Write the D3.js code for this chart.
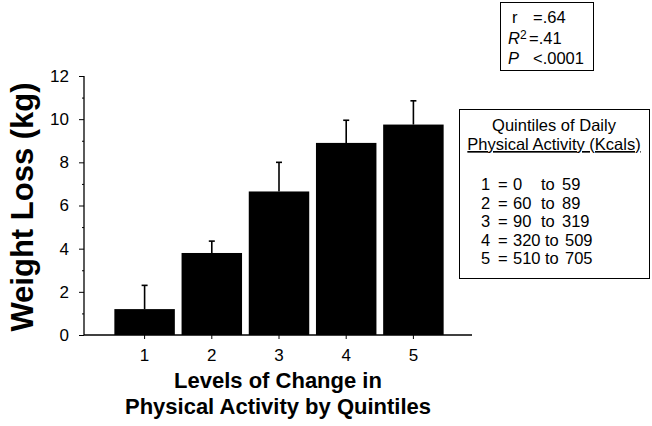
<!DOCTYPE html>
<html><head><meta charset="utf-8">
<script src="https://cdn.jsdelivr.net/npm/d3@7"></script>
<style>body{margin:0;background:#fff}svg{display:block;font-family:"Liberation Sans",Arial,sans-serif}</style>
</head><body><svg id="c" width="652" height="426"></svg>
<script>
const categories = ["1","2","3","4","5"];
const values = [1.2, 3.8, 6.65, 8.9, 9.75];
const errors = [1.1, 0.55, 1.35, 1.05, 1.1];
const yTicks = [0,2,4,6,8,10,12];
const yMinorTicks = [1,3,5,7,9,11];
const statLines = [["r","=.64"],["R","=.41"],["P","<.0001"]];
const legendTitle = ["Quintiles of Daily","Physical Activity (Kcals)"];
const legendFrom = ["0","60","90","320","510"];
const legendTo = ["59","89","319","509","705"];

const svg = d3.select("#c");
const x = d3.scaleBand().domain(categories).range([111,447]).paddingInner(0.1).paddingOuter(0.05);
const y = d3.scaleLinear().domain([0,12]).range([335,76]);

// bars
svg.append("g").selectAll("rect").data(values).join("rect")
  .attr("x",(d,i)=>x(categories[i])).attr("width",x.bandwidth())
  .attr("y",d=>y(d)).attr("height",d=>y(0)-y(d)).attr("fill","#000");

// error bars
const eg = svg.append("g").attr("stroke","#000").attr("stroke-width",1.6);
values.forEach((v,i)=>{
  const cx = x(categories[i])+x.bandwidth()/2;
  eg.append("line").attr("x1",cx).attr("x2",cx).attr("y1",y(v)).attr("y2",y(v+errors[i]));
  eg.append("line").attr("x1",cx-3).attr("x2",cx+3).attr("y1",y(v+errors[i])).attr("y2",y(v+errors[i]));
});

// y axis
const yAxis = d3.axisLeft(y).tickValues(yTicks).tickSize(5).tickPadding(10).tickFormat(d3.format("d"));
const ya = svg.append("g").attr("transform","translate(84,0)").call(yAxis);
ya.select(".domain").attr("d","M0,"+y(12)+"V"+y(0)).attr("stroke-width",1.3);
ya.selectAll("text").attr("font-size",17).attr("font-family","Liberation Sans, Arial, sans-serif").attr("fill","#000");
const yMinor = svg.append("g").attr("transform","translate(84,0)").call(d3.axisLeft(y).tickValues(yMinorTicks).tickSize(2).tickFormat(""));
yMinor.select(".domain").remove();

// x axis
const xa = svg.append("g").attr("transform","translate(0,335)").call(d3.axisBottom(x).tickSize(4).tickPadding(10));
xa.select(".domain").attr("d","M84,0H472").attr("stroke-width",1.3);
xa.selectAll("text").attr("font-size",17).attr("font-family","Liberation Sans, Arial, sans-serif").attr("fill","#000");

// axis titles
svg.append("text").attr("transform","translate(33,207) rotate(-90)").attr("text-anchor","middle")
  .attr("font-size",31).attr("font-weight","bold").text("Weight Loss (kg)");
const xt = svg.append("text").attr("text-anchor","middle").attr("font-size",22).attr("font-weight","bold");
xt.append("tspan").attr("x",278).attr("y",388).text("Levels of Change in");
xt.append("tspan").attr("x",278).attr("y",414).text("Physical Activity by Quintiles");

// stats box
svg.append("rect").attr("x",500.5).attr("y",2.5).attr("width",93).attr("height",68).attr("fill","none").attr("stroke","#000").attr("stroke-width",1);
const sy = [23,44,64];
const st = svg.append("g").attr("font-size",16.5);
st.append("text").attr("x",512).attr("y",sy[0]).text(statLines[0][0]);
st.append("text").attr("x",533).attr("y",sy[0]).text(statLines[0][1]);
const r2 = st.append("text").attr("x",508).attr("y",sy[1]);
r2.append("tspan").attr("font-style","italic").text(statLines[1][0]);
r2.append("tspan").attr("font-size",12).attr("dy",-5).text("2");
st.append("text").attr("x",529).attr("y",sy[1]).text(statLines[1][1]);
st.append("text").attr("x",508).attr("y",sy[2]).attr("font-style","italic").text(statLines[2][0]);
st.append("text").attr("x",533).attr("y",sy[2]).text(statLines[2][1]);

// legend box
svg.append("rect").attr("x",459.5).attr("y",109.5).attr("width",190).attr("height",169).attr("fill","none").attr("stroke","#000").attr("stroke-width",1);
const lg = svg.append("g").attr("font-size",16.5);
lg.append("text").attr("x",554).attr("y",131).attr("text-anchor","middle").text(legendTitle[0]);
lg.append("text").attr("x",554).attr("y",150).attr("text-anchor","middle").attr("text-decoration","underline").text(legendTitle[1]);
categories.forEach((c,i)=>{
  const yy = 190 + i*18.5;
  lg.append("text").attr("x",481).attr("y",yy).text(c);
  lg.append("text").attr("x",498).attr("y",yy).text("=");
  lg.append("text").attr("x",513).attr("y",yy).text(legendFrom[i]);
  lg.append("text").attr("x",i<3?541:545).attr("y",yy).text("to");
  lg.append("text").attr("x",i<3?562:565).attr("y",yy).text(legendTo[i]);
});
</script></body></html>
